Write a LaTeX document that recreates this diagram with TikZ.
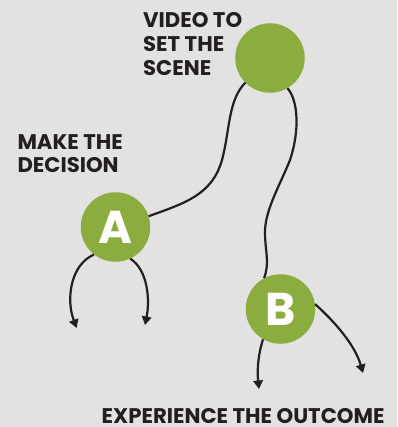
\documentclass[tikz,border=0pt]{standalone}
\usepackage{fontspec}
\setmainfont{Poppins}[BoldFont={* Bold}]
\usetikzlibrary{arrows.meta}
\definecolor{bg}{HTML}{E2E2E2}
\definecolor{leaf}{HTML}{8BAC3E}
\definecolor{ink}{HTML}{231F20}
\begin{document}
\begin{tikzpicture}[x=1pt,y=-1pt,
  stage/.style={circle,fill=leaf,minimum size=69.5pt,inner sep=0pt,font=\fontsize{46}{46}\selectfont\bfseries,text=white},
  caption/.style={anchor=north west,inner sep=0pt,align=left,text=ink,font=\fontsize{21.2}{23.7}\selectfont\bfseries},
  link/.style={line width=2.2pt,draw=ink},
  choice/.style={line width=2.2pt,draw=ink,-{Triangle[width=9.5pt,length=8.5pt]}}]
\fill[bg] (0,0) rectangle (397,427);
\useasboundingbox (0,0) rectangle (397,427);
\node[stage] (video) at (270,58) {};
\node[stage] (a) at (115.5,227) {A};
\node[stage] (b) at (280.5,309) {B};
\node[caption] (tvideo) at (143,12.5) {VIDEO TO\\SET THE\\SCENE};
\node[caption] (tmake) at (17.3,134) {MAKE THE\\DECISION};
\node[caption] (tout) at (101.5,408.5) {EXPERIENCE THE OUTCOME};
\coordinate (a1) at (76.7,328);
\coordinate (a2) at (145,325);
\coordinate (b1) at (259,389);
\coordinate (b2) at (363,373);
% connectors
\draw[link] (video.225) .. controls (228,100) and (230,130) .. (222,160)
  .. controls (212,195) and (185,203) .. (a.18);
\draw[link] (video.300) .. controls (298,100) and (300,130) .. (290,160)
  .. controls (280,185) and (265,210) .. (265,232)
  .. controls (265,252) and (270,262) .. (b.118);
\draw[choice] (a.232) .. controls (70,265) and (66,300) .. (a1);
\draw[choice] (a.295) .. controls (148,270) and (150,300) .. (a2);
\draw[choice] (b.240) .. controls (258,355) and (257,370) .. (b1);
\draw[choice] (b.8) .. controls (335,322) and (355,345) .. (b2);
\end{tikzpicture}
\end{document}
